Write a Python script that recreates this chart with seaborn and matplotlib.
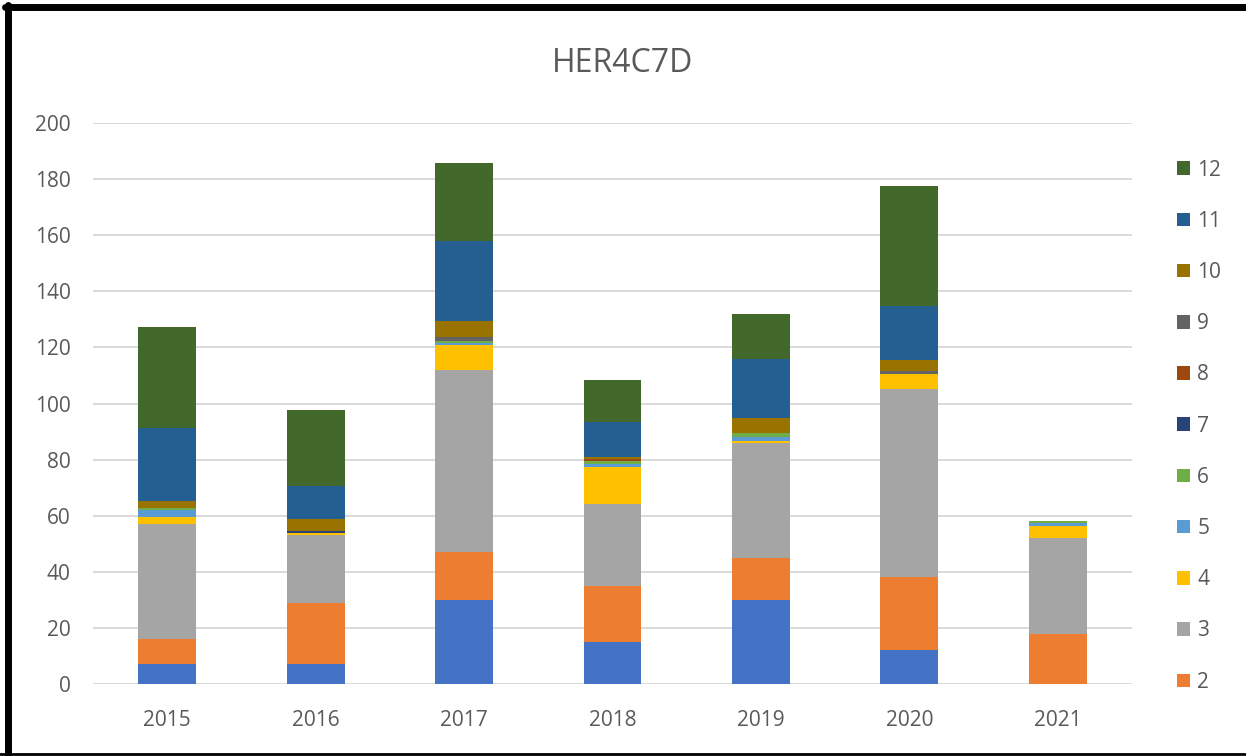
import matplotlib
matplotlib.use("Agg")
import matplotlib.pyplot as plt
from matplotlib.patches import Patch
from matplotlib.lines import Line2D
import pandas as pd
import numpy as np
import seaborn as sns

# Data
years = ["2015", "2016", "2017", "2018", "2019", "2020", "2021"]
s1 = [7, 7, 30, 15, 30, 12, 0]
s2 = [9, 22, 17, 20, 15, 26, 18]
s3 = [41, 24, 65, 29, 41, 67, 34]
s4 = [2.5, 1, 9, 13.5, 0.7, 5.5, 4.5]
s5 = [2.5, 0, 0.6, 0.8, 1.5, 0, 1]
s6 = [0.7, 0, 0.6, 1.3, 1.4, 0, 0.6]
s7 = [0, 0.7, 0, 0, 0, 0, 0]
s8 = [0, 0, 0, 0.7, 0, 0, 0]
s9 = [0, 0, 1.4, 0, 0, 1.2, 0]
s10 = [2.5, 4, 5.7, 0.7, 5.2, 3.9, 0]
s11 = [26, 12, 28.6, 12.3, 21, 19, 0]
s12 = [36, 27, 28, 15.2, 16, 42.8, 0]
series_names = ["1", "2", "3", "4", "5", "6", "7", "8", "9", "10", "11", "12"]
y_ticks = [0, 20, 40, 60, 80, 100, 120, 140, 160, 180, 200]

colors = ["#4472C4", "#ED7D31", "#A5A5A5", "#FFC000", "#5B9BD5", "#70AD47",
          "#264478", "#9E480E", "#636363", "#997300", "#255E91", "#43682B"]

sns.set_theme(style="white")
plt.rcParams["font.family"] = ["Open Sans", "DejaVu Sans"]

all_series = [s1, s2, s3, s4, s5, s6, s7, s8, s9, s10, s11, s12]
df = pd.DataFrame({name: vals for name, vals in zip(series_names, all_series)})
df["year"] = years
cum = df[series_names].cumsum(axis=1)

fig = plt.figure(figsize=(12.46, 7.56), dpi=100)
ax = fig.add_axes([0.0746, 0.0952, 0.834, 0.7421])

# stacked bars: draw cumulative totals from the top series down
for i in range(len(series_names) - 1, -1, -1):
    name = series_names[i]
    sns.barplot(x=df["year"], y=cum[name], color=colors[i], width=0.39,
                saturation=1, linewidth=0, edgecolor="none", ax=ax, zorder=2)

ax.set_ylim(0, 200)
ax.set_xlim(-0.5, len(years) - 0.5)
ax.set_yticks(y_ticks)
ax.set_yticklabels([str(t) for t in y_ticks])
ax.set_xlabel("")
ax.set_ylabel("")
ax.grid(axis="y", color="#D9D9D9", linewidth=1.4, zorder=0)
ax.set_axisbelow(True)
for sp in ax.spines.values():
    sp.set_visible(False)
ax.tick_params(axis="y", length=0, pad=16, labelsize=15, labelcolor="#595959")
ax.tick_params(axis="x", length=0, pad=19, labelsize=15, labelcolor="#595959")

fig.text(0.5, 0.916, "HER4C7D", ha="center", va="center", fontsize=23,
         color="#595959")

# legend (12 down to 2, as shown in the reference)
handles = [Patch(facecolor=colors[i], edgecolor="none") for i in range(11, 0, -1)]
labels = [series_names[i] for i in range(11, 0, -1)]
fig.legend(handles, labels, loc="upper left", bbox_to_anchor=(0.9446, 0.789),
           frameon=False, fontsize=15, labelcolor="#595959", handlelength=0.62,
           handleheight=0.62, handletextpad=0.35, labelspacing=1.45,
           borderaxespad=0, borderpad=0)

# black frame around the chart area
fig.add_artist(Line2D([0.004, 1.0], [0.9905, 0.9905], color="black", linewidth=5,
                      transform=fig.transFigure))
fig.add_artist(Line2D([0.0065, 0.0065], [0.0, 0.993], color="black", linewidth=5,
                      transform=fig.transFigure))
fig.add_artist(Line2D([0.0, 1.0], [0.003, 0.003], color="black", linewidth=2,
                      transform=fig.transFigure))

fig.savefig("out.png", dpi=100)
